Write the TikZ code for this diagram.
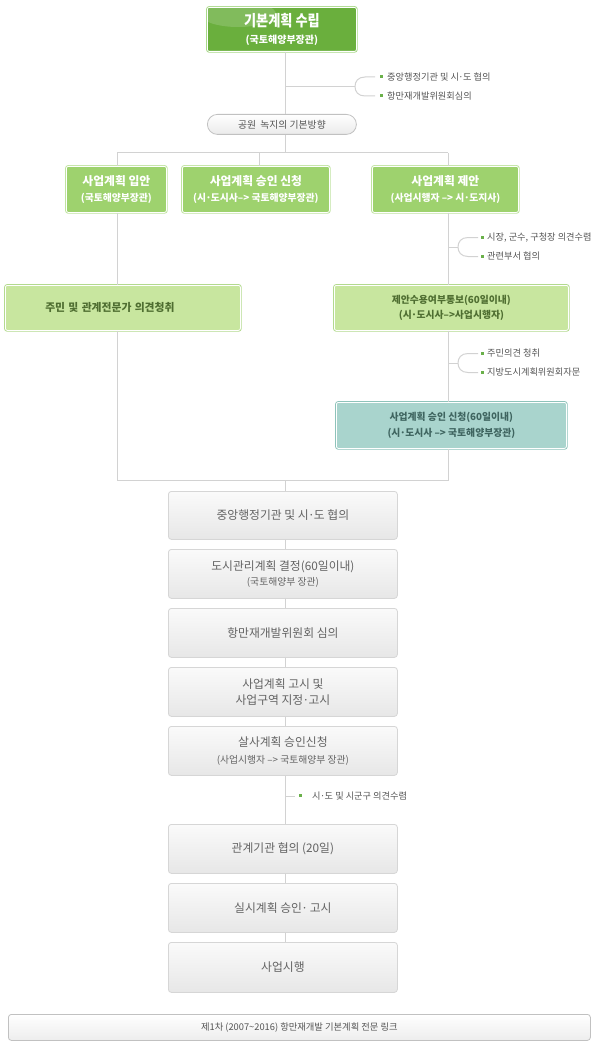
\documentclass[tikz,border=0pt]{standalone}
\usepackage{fontspec}
\usetikzlibrary{calc}
\setmainfont{Noto Sans CJK KR}
\newfontfamily\ttlfont[FakeStretch=0.85]{Noto Sans CJK KR}
\newcommand\mdt{\kern-0.06em·\kern-0.06em}
\definecolor{lineg}{HTML}{D2D2D2}
\definecolor{topf}{HTML}{6AAF3D}
\definecolor{topb}{HTML}{A9D88A}
\definecolor{midf}{HTML}{9ED26E}
\definecolor{midb}{HTML}{BFE3A0}
\definecolor{ltf}{HTML}{C8E69F}
\definecolor{ltb}{HTML}{B3DA8E}
\definecolor{ltt}{HTML}{4F6E31}
\definecolor{tlf}{HTML}{A9D4CD}
\definecolor{tlb}{HTML}{8EC3BA}
\definecolor{tlt}{HTML}{3F6560}
\definecolor{gyf}{HTML}{F3F3F3}
\definecolor{gyb}{HTML}{D6D6D6}
\definecolor{gyt}{HTML}{636363}
\definecolor{sdt}{HTML}{555555}
\definecolor{bul}{HTML}{6AB04A}
\tikzset{
  ln/.style={draw=lineg, line width=1pt},
  topbox/.style={anchor=north west, fill=topf, draw=white, line width=0.8pt, rounded corners=2pt,
     preaction={draw=topb, line width=2.6pt}, text=white, align=center, inner sep=0pt},
  midbox/.style={anchor=north west, fill=midf, draw=white, line width=0.8pt, rounded corners=2pt,
     preaction={draw=midb, line width=2.6pt}, text=white, align=center, inner sep=0pt},
  ltbox/.style={anchor=north west, fill=ltf, draw=white, line width=0.8pt, rounded corners=2pt,
     preaction={draw=ltb, line width=2.6pt}, text=ltt, align=center, inner sep=0pt},
  tlbox/.style={anchor=north west, fill=tlf, draw=white, line width=0.8pt, rounded corners=2pt,
     preaction={draw=tlb, line width=2.6pt}, text=tlt, align=center, inner sep=0pt},
  gybox/.style={anchor=north west, top color=white!60!gyf, bottom color=gyf!95!black, draw=gyb, line width=0.8pt,
     rounded corners=3pt, text=gyt, align=center, inner sep=0pt, minimum width=229pt},
  blt/.style={fill=bul, minimum size=3pt, inner sep=0pt},
  sd/.style={anchor=west, text=sdt, font=\fontsize{9.2}{10}\selectfont, inner sep=0pt},
  big/.style={font=\fontsize{11.8}{15}\selectfont},
  gap/.style={font=\fontsize{9}{#1}\selectfont},
}
\begin{document}
\begin{tikzpicture}[x=1pt,y=-1pt]
\useasboundingbox (0,0) rectangle (600,1051);
\fill[white] (0,0) rectangle (600,1051);

% junction coordinates
\coordinate (jt) at (285,153);
\coordinate (jl) at (117,153);
\coordinate (jm) at (259,153);
\coordinate (jr) at (448,153);
\coordinate (bl) at (117,480);
\coordinate (br) at (448,480);
\coordinate (bm) at (285,480);
\coordinate (s1) at (285,86.5);
\coordinate (s1e) at (355,86.5);
\coordinate (s2) at (448,247);
\coordinate (s2e) at (458,247);
\coordinate (s3) at (448,363);
\coordinate (s3e) at (458,363);
\coordinate (s4) at (285,796);
\coordinate (s4e) at (295,796);

% top box
\node[topbox, gap=17pt, minimum width=149pt, minimum height=44pt] (top) at (207,7)
  {{\ttlfont\fontsize{15.5}{18}\selectfont\bfseries 기본계획 수립}\\{\fontsize{10}{12}\selectfont\bfseries (국토해양부장관)}};
\begin{scope}
\clip[rounded corners=2pt] (208,8) rectangle (355,50);
\fill[white, opacity=0.16] (238,14) ellipse (38 and 13);
\end{scope}

% bubble
\node[anchor=north west, minimum width=149pt, minimum height=20pt, rounded corners=10pt, draw=gyb!90!black,
  line width=0.8pt, top color=white, bottom color=black!8, text=sdt, inner sep=0pt,
  font=\fontsize{9.8}{11}\selectfont] (bub) at (207,114) {공원\ \ 녹지의 기본방향};

% green boxes row
\node[midbox, gap=16pt, minimum width=100pt, minimum height=46pt] (b1) at (66,166)
  {{\fontsize{11.8}{14}\selectfont\bfseries 사업계획 입안}\\{\fontsize{9.8}{12}\selectfont\bfseries (국토해양부장관)}};
\node[midbox, gap=16pt, minimum width=147pt, minimum height=46pt] (b2) at (182,166)
  {{\fontsize{11.8}{14}\selectfont\bfseries 사업계획 승인 신청}\\{\fontsize{9.8}{12}\selectfont\bfseries (시\mdt 도시사–> 국토해양부장관)}};
\node[midbox, gap=16pt, minimum width=146pt, minimum height=46pt] (b3) at (372,166)
  {{\fontsize{11.8}{14}\selectfont\bfseries 사업계획 제안}\\{\fontsize{9.8}{12}\selectfont\bfseries (사업시행자 –> 시\mdt 도지사)}};

\node[ltbox, minimum width=235pt, minimum height=45pt, text width=235pt] (b4) at (5,285)
  {\hspace*{-26pt}{\fontsize{10.8}{12}\selectfont\bfseries 주민 및 관계전문가 의견청취}};
\node[ltbox, gap=15.5pt, minimum width=234pt, minimum height=45pt] (b5) at (334,285)
  {{\fontsize{9.8}{13}\selectfont\bfseries 제안수용여부통보(60일이내)}\\{\fontsize{9.8}{13}\selectfont\bfseries (시\mdt 도시사–>사업시행자)}};
\node[tlbox, gap=16pt, minimum width=230pt, minimum height=46pt] (b6) at (336,402)
  {{\fontsize{9.8}{13}\selectfont\bfseries 사업계획 승인 신청(60일이내)}\\{\fontsize{9.8}{13}\selectfont\bfseries (시\mdt 도시사 –> 국토해양부장관)}};

% gray boxes
\node[gybox, minimum height=48pt, big] (g1) at (168,491) {중앙행정기관 및 시\mdt 도 협의};
\node[gybox, gap=15.5pt, minimum height=49pt] (g2) at (168,549)
  {{\fontsize{11.8}{14}\selectfont 도시관리계획 결정(60일이내)}\\{\fontsize{9.8}{12}\selectfont (국토해양부 장관)}};
\node[gybox, minimum height=49pt, big] (g3) at (168,608) {항만재개발위원회 심의};
\node[gybox, gap=16.5pt, minimum height=49pt] (g4) at (168,667)
  {{\fontsize{11.8}{15}\selectfont 사업계획 고시 및}\\{\fontsize{11.8}{15}\selectfont 사업구역 지정\mdt 고시}};
\node[gybox, gap=16.5pt, minimum height=49pt] (g5) at (168,726)
  {{\fontsize{11.8}{14}\selectfont 살사계획 승인신청}\\{\fontsize{9.8}{12}\selectfont (사업시행자 –> 국토해양부 장관)}};
\node[gybox, minimum height=49pt, big] (g6) at (168,824) {관계기관 협의 (20일)};
\node[gybox, minimum height=49pt, big] (g7) at (168,883) {실시계획 승인\mdt\ 고시};
\node[gybox, minimum height=50pt, big] (g8) at (168,942) {사업시행};

% bottom bar
\node[anchor=north west, minimum width=582pt, minimum height=26pt, rounded corners=3pt, draw=gyb!90!black,
  line width=0.8pt, top color=white, bottom color=black!7, text=sdt, inner sep=0pt,
  font=\fontsize{9.3}{11}\selectfont] (link) at (8,1014) {제1차 (2007\textasciitilde 2016) 항만재개발 기본계획 전문 링크};

% connectors
\draw[ln] (top.south -| jt) -- (bub.north -| jt);
\draw[ln] (bub.south -| jt) -- (jt);
\draw[ln] (jl) -- (jr);
\draw[ln] (jl) -- (b1.north -| jl);
\draw[ln] (jm) -- (b2.north -| jm);
\draw[ln] (jr) -- (b3.north -| jr);
\draw[ln] (b1.south -| jl) -- (b4.north -| jl);
\draw[ln] (b4.south -| jl) -- (bl) -- (br) -- (b6.south -| br);
\draw[ln] (b3.south -| jr) -- (b5.north -| jr);
\draw[ln] (b5.south -| jr) -- (b6.north -| jr);
\draw[ln] (bm) -- (g1.north -| bm);
\draw[ln] (g1.south -| bm) -- (g2.north -| bm);
\draw[ln] (g2.south -| bm) -- (g3.north -| bm);
\draw[ln] (g3.south -| bm) -- (g4.north -| bm);
\draw[ln] (g4.south -| bm) -- (g5.north -| bm);
\draw[ln] (g5.south -| bm) -- (g6.north -| bm);
\draw[ln] (g6.south -| bm) -- (g7.north -| bm);
\draw[ln] (g7.south -| bm) -- (g8.north -| bm);

% side branch 1
\draw[ln] (s1) -- (s1e);
\draw[ln] ($(s1e)+(20,-9.5)$) -- ($(s1e)+(10,-9.5)$) .. controls ($(s1e)+(3,-9.5)$) and ($(s1e)+(0,-5)$) .. (s1e)
  .. controls ($(s1e)+(0,5)$) and ($(s1e)+(3,9.5)$) .. ($(s1e)+(10,9.5)$) -- ($(s1e)+(20,9.5)$);
\node[blt] (p1) at (381,77) {};
\node[blt] (p2) at (381,96) {};
\node[sd] (t1) at (387,77) {중앙행정기관 및 시\mdt 도 협의};
\node[sd] (t2) at (387,96) {항만재개발위원회심의};

% side branch 2
\draw[ln] (s2) -- (s2e);
\draw[ln] ($(s2e)+(20,-9.5)$) -- ($(s2e)+(10,-9.5)$) .. controls ($(s2e)+(3,-9.5)$) and ($(s2e)+(0,-5)$) .. (s2e)
  .. controls ($(s2e)+(0,5)$) and ($(s2e)+(3,9.5)$) .. ($(s2e)+(10,9.5)$) -- ($(s2e)+(20,9.5)$);
\node[blt] (p3) at (482,237.5) {};
\node[blt] (p4) at (482,256.5) {};
\node[sd] (t3) at (487,237.5) {시장, 군수, 구청장 의견수렴};
\node[sd] (t4) at (487,256.5) {관련부서 협의};

% side branch 3
\draw[ln] (s3) -- (s3e);
\draw[ln] ($(s3e)+(20,-9.5)$) -- ($(s3e)+(10,-9.5)$) .. controls ($(s3e)+(3,-9.5)$) and ($(s3e)+(0,-5)$) .. (s3e)
  .. controls ($(s3e)+(0,5)$) and ($(s3e)+(3,9.5)$) .. ($(s3e)+(10,9.5)$) -- ($(s3e)+(20,9.5)$);
\node[blt] (p5) at (482,353.5) {};
\node[blt] (p6) at (482,372.5) {};
\node[sd] (t5) at (487,353.5) {주민의견 청취};
\node[sd] (t6) at (487,372.5) {지방도시계획위원회자문};

% side branch 4
\draw[ln] (s4) -- (s4e);
\node[blt] (p7) at (300,795) {};
\node[sd] (t7) at (312,796) {시\mdt 도 및 시군구 의견수렴};
\end{tikzpicture}
\end{document}
